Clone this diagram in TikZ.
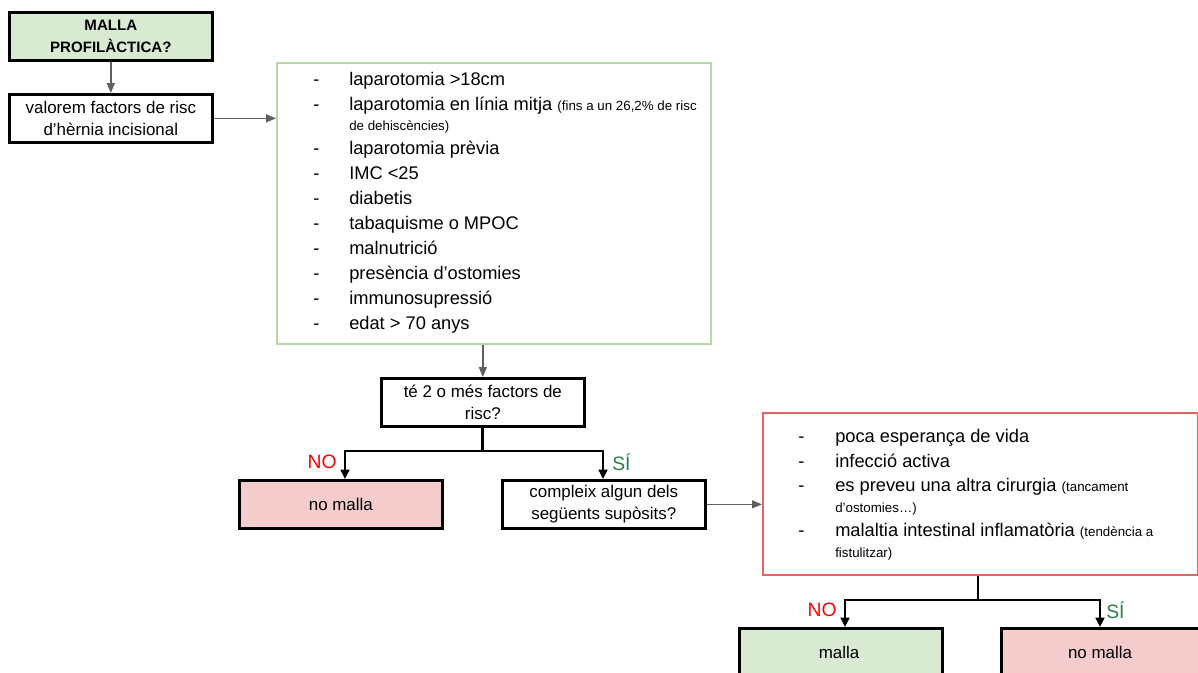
\documentclass[tikz,border=0pt]{standalone}
\usepackage{fontspec}
\setmainfont{Liberation Sans}
\usetikzlibrary{arrows.meta}
\definecolor{gfill}{HTML}{D9EAD3}
\definecolor{gline}{HTML}{B6D7A8}
\definecolor{pfill}{HTML}{F4CCCC}
\definecolor{rline}{HTML}{E06666}
\definecolor{garrow}{HTML}{5F5F5F}
\definecolor{nored}{HTML}{FF0000}
\definecolor{sigreen}{HTML}{2E7D50}
\begin{document}
\begin{tikzpicture}[x=0.75pt,y=-0.75pt,
  box/.style={draw=black,line width=2pt,minimum width=152.25pt,minimum height=36pt,
    inner sep=0pt,align=center,anchor=north west,font=\fontsize{12.7}{16.5}\selectfont},
  listbox/.style={line width=1.6pt,anchor=north west,inner sep=0pt},
  item/.style={anchor=base west,inner sep=0pt,font=\fontsize{13.7}{16}\selectfont},
  dashmark/.style={anchor=base west,inner sep=0pt,font=\fontsize{13.7}{16}\selectfont},
  sml/.style={font=\fontsize{10}{12}\selectfont},
  grayarrow/.style={draw=garrow,line width=1.1pt,-{Triangle[length=7.5pt,width=6pt]}},
  blackarrow/.style={draw=black,line width=2.2pt,-{Triangle[length=7pt,width=6.5pt]}},
  blackline/.style={draw=black,line width=2.2pt},
  nolab/.style={text=nored,font=\fontsize{14.5}{17}\selectfont,inner sep=0pt},
  silab/.style={text=sigreen,font=\fontsize{14.5}{17}\selectfont,inner sep=0pt}]
\clip (0,0) rectangle (1198,672);
\useasboundingbox (0,0) rectangle (1198,672);

% top boxes
\node[box,fill=gfill,font=\fontsize{11.3}{16.5}\selectfont\bfseries] (start) at (8,11) {MALLA\\PROFILÀCTICA?};
\node[box] (valorem) at (8,93) {valorem factors de risc\\d’hèrnia incisional};

% green list box
\node[listbox,draw=gline,minimum width=325.5pt,minimum height=210.75pt] (risk) at (276,62) {};
\foreach \y [count=\i] in {85,110,154,179,204,229,254,279,304,329}{
  \node[dashmark] (rd\i) at (313,\y) {-};
}
\node[item] (r1) at (349,85) {laparotomia >18cm};
\node[item] (r2) at (349,110) {laparotomia en línia mitja {\fontsize{10}{12}\selectfont(fins a un 26,2\% de risc}};
\node[item,sml] (r2b) at (349,130) {de dehiscències)};
\node[item] (r3) at (349,154) {laparotomia prèvia};
\node[item] (r4) at (349,179) {IMC <25};
\node[item] (r5) at (349,204) {diabetis};
\node[item] (r6) at (349,229) {tabaquisme o MPOC};
\node[item] (r7) at (349,254) {malnutrició};
\node[item] (r8) at (349,279) {presència d’ostomies};
\node[item] (r9) at (349,304) {immunosupressió};
\node[item] (r10) at (349,329) {edat > 70 anys};

% question
\node[box] (q) at (380,377) {té 2 o més factors de\\risc?};
\node[box,fill=pfill] (nomalla1) at (238,479) {no malla};
\node[box] (compleix) at (501,479) {compleix algun dels\\següents supòsits?};

% red list box
\node[listbox,draw=rline,minimum width=326.25pt,minimum height=121.5pt] (contra) at (762,412) {};
\foreach \y [count=\i] in {442,467,491,536}{
  \node[dashmark] (cd\i) at (798,\y) {-};
}
\node[item] (c1) at (835,442) {poca esperança de vida};
\node[item] (c2) at (835,467) {infecció activa};
\node[item] (c3) at (835,491) {es preveu una altra cirurgia {\fontsize{10}{12}\selectfont(tancament}};
\node[item,sml] (c3b) at (835,512) {d’ostomies…)};
\node[item] (c4) at (835,536) {malaltia intestinal inflamatòria {\fontsize{10}{12}\selectfont(tendència a}};
\node[item,sml] (c4b) at (835,557) {fistulitzar)};

% bottom boxes
\node[box,fill=gfill] (malla) at (738,627) {};
\node[box,fill=pfill] (nomalla2) at (1000,627) {};
\node[inner sep=0pt,font=\fontsize{12.7}{16.5}\selectfont] (mallat) at (839,652) {malla};
\node[inner sep=0pt,font=\fontsize{12.7}{16.5}\selectfont] (nomalla2t) at (1100,652) {no malla};

% gray arrows
\draw[grayarrow] (start.south) -- (valorem.north);
\draw[grayarrow] (valorem.east) -- (valorem.east -| risk.west);
\draw[grayarrow] (risk.south -| q.north) -- (q.north);
\draw[grayarrow] (compleix.east) -- (compleix.east -| contra.west);

% black branches
\coordinate (qL) at (345,451);
\coordinate (qR) at (603,451);
\coordinate (qj) at (q.south |- qL);
\draw[blackline] (q.south) -- (qj);
\draw[blackline,line cap=rect] (qL) -- (qR);
\draw[blackarrow] (qL) -- (qL |- nomalla1.north);
\draw[blackarrow] (qR) -- (qR |- compleix.north);
\node[nolab,anchor=east] (no1) at (337,462) {NO};
\node[silab,anchor=west] (si1) at (612,462) {SÍ};

\coordinate (cL) at (845,600);
\coordinate (cR) at (1100,600);
\coordinate (cj) at (978,600);
\draw[blackline] (contra.south -| cj) -- (cj);
\draw[blackline,line cap=rect] (cL) -- (cR);
\draw[blackarrow] (cL) -- (cL |- malla.north);
\draw[blackarrow] (cR) -- (cR |- nomalla2.north);
\node[nolab,anchor=east] (no2) at (837,610) {NO};
\node[silab,anchor=west] (si2) at (1106,610) {SÍ};
\end{tikzpicture}
\end{document}
